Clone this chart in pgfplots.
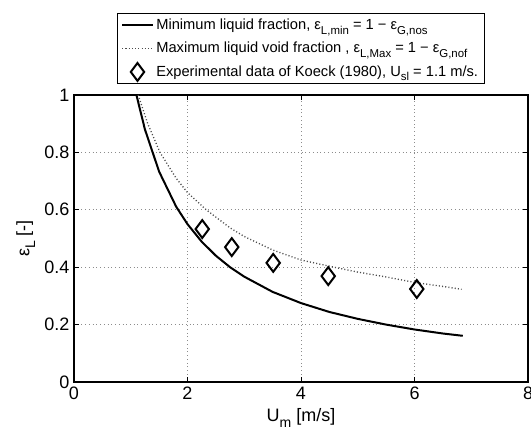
\documentclass[border=0pt]{standalone}
\usepackage{fontspec}
\setmainfont{Liberation Sans}
\usepackage{graphicx}
\usepackage{pgfplots}
\pgfplotsset{compat=1.18}
\newcommand{\sub}[1]{\raisebox{-0.6ex}{\scalebox{0.78}{#1}}}
\begin{document}
\begin{tikzpicture}
\begin{axis}[
  name=ax,
  scale only axis,
  width=340.5pt, height=215.25pt,
  xmin=0, xmax=8, ymin=0, ymax=1,
  xtick={0,2,4,6,8},
  ytick={0,0.2,0.4,0.6,0.8,1},
  /pgf/number format/assume math mode=true,
  tick label style={font=\fontsize{13.5}{16}\selectfont},
  label style={font=\fontsize{13.5}{16}\selectfont},
  tick align=inside,
  major tick length=3.5pt,
  tick style={black, line width=0.6pt},
  axis line style={line width=1pt},
  grid=major,
  major grid style={black!45, line width=0.5pt, dash pattern=on 0.6pt off 2.2pt},
  xlabel={U\sub{m} [m/s]},
  ylabel={ε\sub{L} [-]},
  legend style={at={(0.5,1.038)}, anchor=south, draw=black, line width=0.75pt,
    font=\fontsize{11}{13}\selectfont, cells={anchor=west}, row sep=4pt,
    inner xsep=3pt, inner ysep=2pt},
  legend image code/.code={\draw[mark repeat=2,mark phase=2,#1] plot coordinates {(0cm,0cm) (0.4cm,0cm) (0.8cm,0cm)};},
]
\addplot[black, line width=1.5pt] coordinates {
(1.1,1.0) (1.25,0.88) (1.5,0.733) (1.8,0.611) (2.0,0.55) (2.25,0.489)
(2.5,0.44) (2.75,0.4) (3.0,0.367) (3.5,0.314) (4.0,0.275) (4.5,0.244)
(5.0,0.22) (5.5,0.2) (6.0,0.183) (6.5,0.169) (6.85,0.161)};
\addlegendentry{Minimum liquid fraction, ε\sub{L,min} = 1 − ε\sub{G,nos}}
\addplot[black!70, line width=1pt, dash pattern=on 0.8pt off 1.6pt] coordinates {
(1.13,1.0) (1.3,0.9) (1.515,0.8) (1.8,0.71) (2.0,0.66) (2.33,0.6)
(2.75,0.537) (3.0,0.507) (3.5,0.46) (4.0,0.425) (4.63,0.398) (5.0,0.383)
(5.5,0.366) (6.0,0.347) (6.5,0.333) (6.83,0.323)};
\addlegendentry{Maximum liquid void fraction , ε\sub{L,Max} = 1 − ε\sub{G,nof}}
\addplot[only marks, mark=diamond, mark size=6.7pt, black, line width=1.5pt] coordinates {
(2.26,0.533) (2.78,0.47) (3.51,0.415) (4.48,0.369) (6.04,0.324)};
\addlegendentry{Experimental data of Koeck (1980), U\sub{sl} = 1.1 m/s.}
\end{axis}
\pgfresetboundingbox
\path ([xshift=-55.5pt,yshift=-39pt]ax.south west) rectangle ([xshift=2.25pt,yshift=71.25pt]ax.north east);
\end{tikzpicture}
\end{document}
